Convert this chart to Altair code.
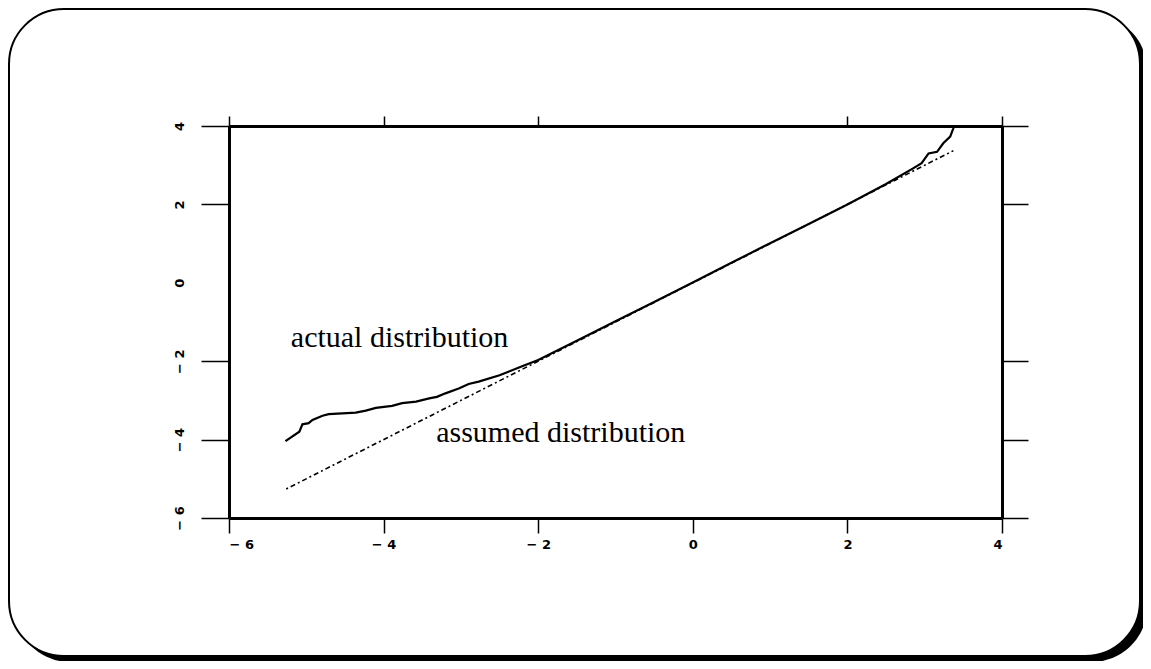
import altair as alt
import pandas as pd

actual_x = [-5.27, -5.09, -5.05, -4.97, -4.92, -4.79, -4.71, -4.36, -4.23, -4.10,
            -3.89, -3.76, -3.58, -3.41, -3.31, -3.20, -3.02, -2.90, -2.77, -2.50,
            -2.20, -2.00, -1.50, -1.00, -0.50, 0.00, 0.50, 1.00, 1.50, 2.00,
            2.50, 2.85, 2.96, 3.05, 3.16, 3.24, 3.33, 3.37, 3.38]
actual_y = [-4.04, -3.80, -3.61, -3.58, -3.50, -3.39, -3.35, -3.31, -3.26, -3.19,
            -3.14, -3.07, -3.03, -2.95, -2.91, -2.82, -2.69, -2.58, -2.52, -2.36,
            -2.12, -1.97, -1.48, -0.98, -0.49, 0.01, 0.51, 1.01, 1.50, 2.00,
            2.52, 2.92, 3.05, 3.30, 3.34, 3.56, 3.73, 3.94, 4.00]

# Assumed distribution (reference line)
assumed_x = [-5.26, 3.37]
assumed_y = [-5.26, 3.37]

# Annotations
label_text = ["actual distribution", "assumed distribution"]
label_x = [-5.2, -3.32]
label_y = [-1.41, -3.83]

ticks = [-6, -4, -2, 0, 2, 4]

actual_df = pd.DataFrame({"x": actual_x, "y": actual_y})
assumed_df = pd.DataFrame({"x": assumed_x, "y": assumed_y})
label_df = pd.DataFrame({"t": label_text, "x": label_x, "y": label_y})

xs = alt.Scale(domain=[-6, 4], nice=False, zero=False)
ys = alt.Scale(domain=[-6, 4], nice=False, zero=False)

hide_zero = {"condition": {"test": "datum.value === 0", "value": 0}, "value": 1}
lab_expr = "datum.value < 0 ? '\u2212 ' + abs(datum.value) : '' + datum.value"

common = dict(values=ticks, tickWidth=1.5, tickColor="black", domain=True,
              domainColor="black", domainWidth=3, grid=False, zindex=1)

# Decorative rounded frame with shadow
frame_df = pd.DataFrame({"k": [0]})
shadow = alt.Chart(frame_df).mark_rect(color="black", cornerRadius=55).encode(
    x=alt.value(-214), x2=alt.value(918), y=alt.value(-111), y2=alt.value(536)
)
frame = alt.Chart(frame_df).mark_rect(
    fill="white", stroke="black", strokeWidth=2, cornerRadius=55
).encode(
    x=alt.value(-220), x2=alt.value(911), y=alt.value(-117), y2=alt.value(530)
)

actual = alt.Chart(actual_df).mark_line(color="black", strokeWidth=2.2).encode(
    x=alt.X("x:Q", scale=xs, title=None,
            axis=alt.Axis(orient="bottom", tickSize=15,
                          labelFont="DejaVu Sans", labelFontWeight="bold",
                          labelFontSize=13, labelColor="black", labelPadding=5,
                          labelExpr=lab_expr, **common)),
    y=alt.Y("y:Q", scale=ys, title=None,
            axis=alt.Axis(orient="left", tickSize=28, tickOpacity=hide_zero,
                          labelAngle=270, labelFont="DejaVu Sans",
                          labelFontWeight="bold", labelFontSize=13,
                          labelColor="black", labelPadding=15, labelExpr=lab_expr,
                          **common)),
    order="x:Q",
)

assumed = alt.Chart(assumed_df).mark_line(
    color="black", strokeWidth=1.6, strokeDash=[2, 3, 5, 3]
).encode(
    x=alt.X("x:Q", scale=xs, title=None,
            axis=alt.Axis(orient="top", tickSize=10, tickOpacity=hide_zero,
                          labels=False, **common)),
    y=alt.Y("y:Q", scale=ys, title=None,
            axis=alt.Axis(orient="right", tickSize=26, tickOpacity=hide_zero,
                          labels=False, **common)),
)

labels = alt.Chart(label_df).mark_text(
    font="Liberation Serif", fontSize=30, align="left", baseline="middle", color="black"
).encode(
    x=alt.X("x:Q", scale=xs, axis=None),
    y=alt.Y("y:Q", scale=ys, axis=None),
    text="t:N",
)

chart = alt.layer(shadow, frame, assumed, actual, labels).properties(
    width=773,
    height=392,
    autosize=alt.AutoSizeParams(type="none"),
    padding={"left": 221, "top": 118, "right": 141, "bottom": 143},
).configure_view(strokeWidth=0).configure(background="white")

chart.save("out.html", embed_options={"renderer": "svg", "actions": False})
